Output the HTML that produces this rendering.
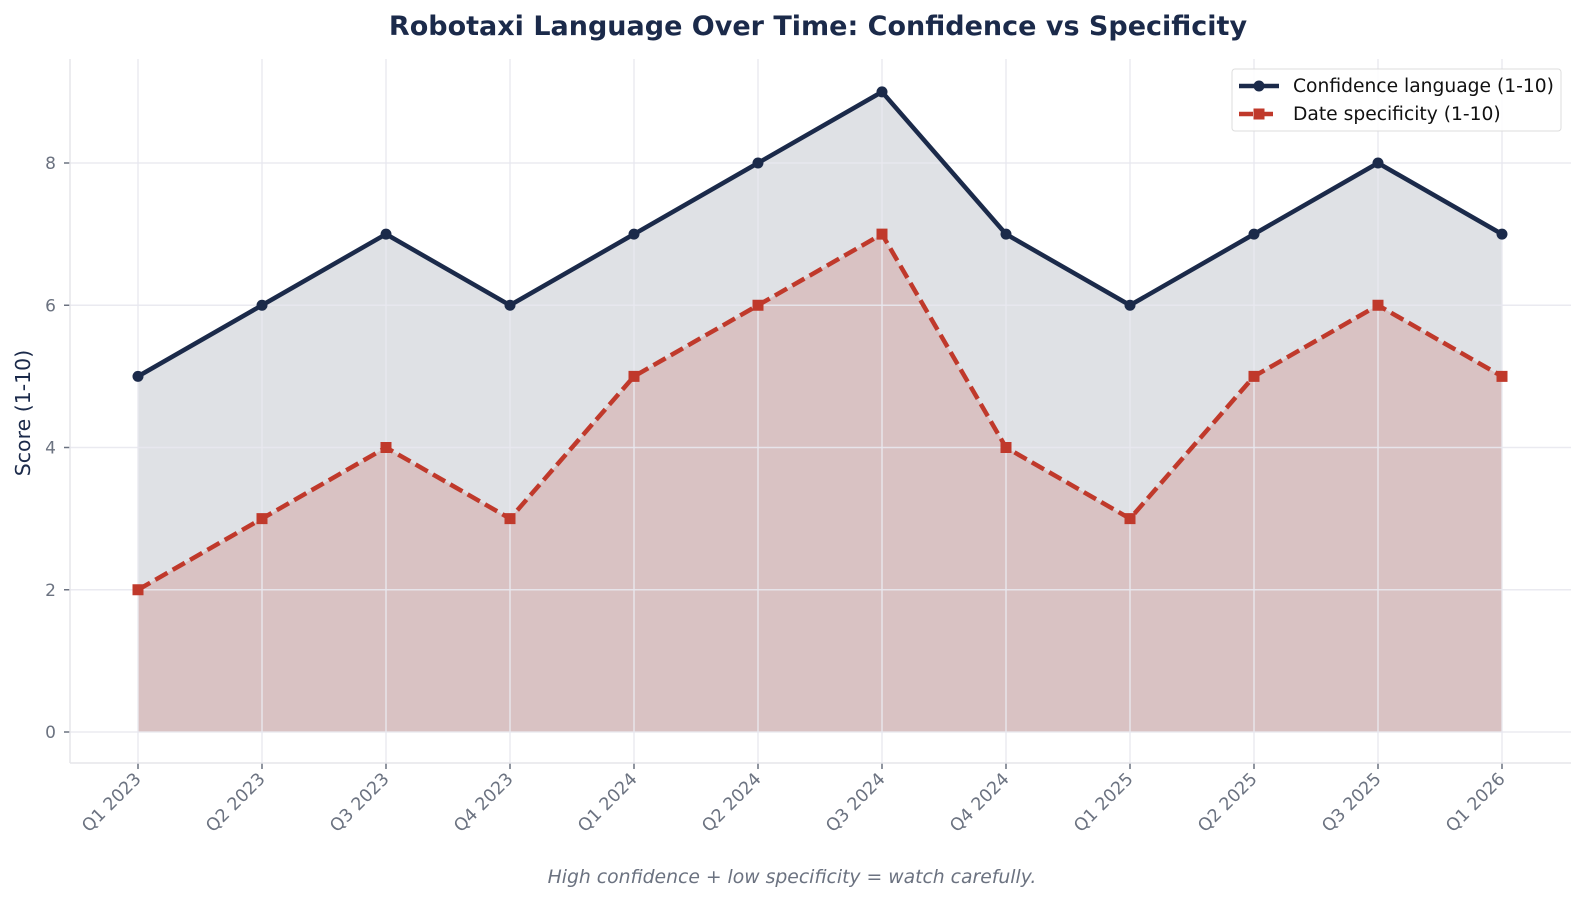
<!DOCTYPE html>
<html><head><meta charset="utf-8"><style>
body{margin:0;background:#fff;}
svg{display:block;font-family:"DejaVu Sans","Liberation Sans",sans-serif;}
</style></head><body>
<svg id="chart" width="1584" height="902" viewBox="0 0 1584 902">
<text x="818" y="35" text-anchor="middle" font-size="27" font-weight="bold" fill="#1b2a4a">Robotaxi Language Over Time: Confidence vs Specificity</text>
<g id="fills"></g>
<g id="grid"></g>
<g id="axes"></g>
<g id="series"></g>
<text transform="translate(30,413) rotate(-90)" text-anchor="middle" font-size="20.5" fill="#1b2a4a">Score (1-10)</text>
<text x="792" y="883" text-anchor="middle" font-size="18.8" font-style="italic" fill="#6b7280">High confidence + low specificity = watch carefully.</text>
<g>
<rect x="1232" y="69" width="329" height="62" rx="3" fill="#fff" fill-opacity="0.85" stroke="#ddd"/>
<g>
<line x1="1239" y1="86" x2="1279" y2="86" stroke="#1b2a4a" stroke-width="4.5"/><circle cx="1259" cy="86" r="5.5" fill="#1b2a4a"/>
<text x="1293" y="92" font-size="18.7" fill="#111">Confidence language (1-10)</text></g>
<g>
<line x1="1239" y1="114" x2="1279" y2="114" stroke="#c0392b" stroke-width="4.5" stroke-dasharray="14,6"/><rect x="1253.5" y="108.5" width="11" height="11" fill="#c0392b"/>
<text x="1293" y="120" font-size="18.7" fill="#111">Date specificity (1-10)</text></g>
</g>
</svg>
<script>
const categories=["Q1 2023","Q2 2023","Q3 2023","Q4 2023","Q1 2024","Q2 2024","Q3 2024","Q4 2024","Q1 2025","Q2 2025","Q3 2025","Q1 2026"];
const confidence=[5,6,7,6,7,8,9,7,6,7,8,7];
const specificity=[2,3,4,3,5,6,7,4,3,5,6,5];
const yTicks=[0,2,4,6,8];
const NS="http://www.w3.org/2000/svg";
function X(i){return 138+i*(1502-138)/(categories.length-1);}
function Y(v){return 732-v*(732-163)/8;}
function mk(tag,attrs,parent){const e=document.createElementNS(NS,tag);for(const k in attrs)e.setAttribute(k,attrs[k]);parent.appendChild(e);return e;}
const grid=document.getElementById('grid'),fills=document.getElementById('fills'),axes=document.getElementById('axes'),series=document.getElementById('series');
yTicks.forEach(t=>{
 const l=mk('line',{x1:70,x2:1571,y1:Y(t),y2:Y(t),stroke:'#e8e8ee','stroke-opacity':0.9,'stroke-width':1.5},grid);
 
 
 mk('line',{x1:64,x2:70,y1:Y(t),y2:Y(t),stroke:'#6b7280','stroke-width':1.5},axes);
 const tx=mk('text',{x:56,y:Y(t)+6,'text-anchor':'end','font-size':17,fill:'#6b7280'},axes);tx.textContent=t;
 
 
});
categories.forEach((c,i)=>{
 const l=mk('line',{x1:X(i),x2:X(i),y1:59,y2:763,stroke:'#e8e8ee','stroke-opacity':0.9,'stroke-width':1.5},grid);
 
 
 mk('line',{x1:X(i),x2:X(i),y1:763,y2:769,stroke:'#6b7280','stroke-width':1.5},axes);
 const tx=mk('text',{transform:`translate(${X(i)+4},${780}) rotate(-45)`,'text-anchor':'end','font-size':17.5,fill:'#6b7280'},axes);tx.textContent=c;
 
 
});
mk('line',{x1:70,x2:70,y1:59,y2:763,stroke:'#e5e5ea','stroke-width':1.5},axes);
mk('line',{x1:70,x2:1571,y1:763,y2:763,stroke:'#e5e5ea','stroke-width':1.5},axes);
function area(vals,color,op,name){
 let d=`M${X(0)},${Y(0)}`;vals.forEach((v,i)=>d+=`L${X(i)},${Y(v)}`);d+=`L${X(vals.length-1)},${Y(0)}Z`;
 const p=mk('path',{d:d,fill:color,'fill-opacity':op},fills);
 
 
}
area(confidence,'#1b2a4a',0.14,'confidence-area');
area(specificity,'#c0392b',0.18,'specificity-area');
function line(vals,color,dash,name){
 const pts=vals.map((v,i)=>X(i)+','+Y(v)).join(' ');
 const a={points:pts,fill:'none',stroke:color,'stroke-width':4.5,'stroke-linejoin':'round'};if(dash)a['stroke-dasharray']=dash;
 const p=mk('polyline',a,series);
 
 
}
line(confidence,'#1b2a4a',null,'confidence-line');
line(specificity,'#c0392b','14,6','specificity-line');
confidence.forEach((v,i)=>{const c=mk('circle',{cx:X(i),cy:Y(v),r:5.5,fill:'#1b2a4a'},series);
 
 });
specificity.forEach((v,i)=>{const r=mk('rect',{x:X(i)-5.5,y:Y(v)-5.5,width:11,height:11,fill:'#c0392b'},series);
 
 });
</script>
</body></html>
